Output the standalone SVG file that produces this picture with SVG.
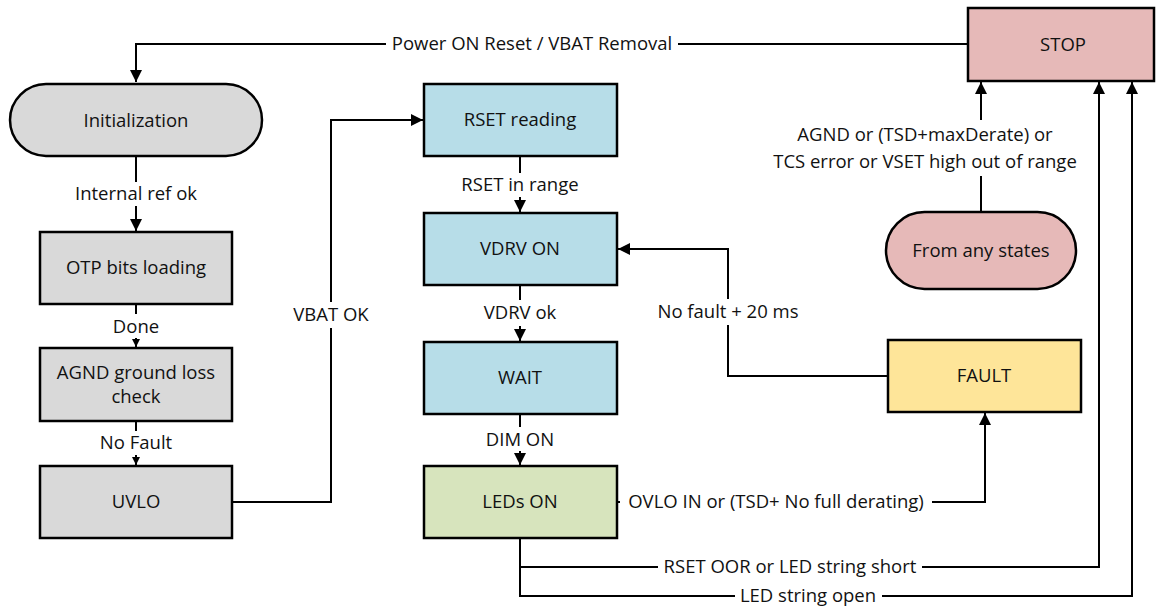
<svg xmlns="http://www.w3.org/2000/svg" width="1156" height="607" viewBox="0 0 1156 607">
<style>
.n{stroke:#000;stroke-width:2.5}
.g{fill:#d9d9d9}.b{fill:#b7dde8}.p{fill:#e6b9b8}.y{fill:#fee599}.gr{fill:#d7e4bd}
text{font-family:"Open Sans","Liberation Sans",sans-serif;font-size:18.5px;fill:#111;text-anchor:middle}
.c{fill:none;stroke:#000;stroke-width:2}
.bg{fill:#fff}
</style>
<defs>
<marker id="a" markerUnits="userSpaceOnUse" markerWidth="14" markerHeight="14" refX="12" refY="7" orient="auto"><path d="M0,1 L12,7 L0,13 Z" fill="#000"/></marker>
<marker id="s" markerUnits="userSpaceOnUse" markerWidth="10" markerHeight="10" refX="8" refY="5" orient="auto"><path d="M0,1 L8,5 L0,9 Z" fill="#000"/></marker>
</defs>
<g id="connectors">
<path class="c" d="M968,44 H136 V82" marker-end="url(#a)"/>
<rect class="bg" x="386" y="33" width="292" height="22"/>
<text x="532" y="50">Power ON Reset / VBAT Removal</text>
<path class="c" d="M136,157 V231" marker-end="url(#a)"/>
<rect class="bg" x="70" y="182" width="132" height="24"/>
<text x="136" y="200">Internal ref ok</text>
<path class="c" d="M136,304 V347" marker-end="url(#s)"/>
<rect class="bg" x="110" y="314" width="52" height="24"/>
<text x="136" y="333">Done</text>
<path class="c" d="M136,421 V465" marker-end="url(#s)"/>
<rect class="bg" x="98" y="431" width="76" height="24"/>
<text x="136" y="449">No Fault</text>
<path class="c" d="M232,502 H331 V120 H423" marker-end="url(#a)"/>
<rect class="bg" x="294" y="302" width="74" height="26"/>
<text x="331" y="321">VBAT OK</text>
<path class="c" d="M520,156 V212" marker-end="url(#a)"/>
<rect class="bg" x="456" y="173" width="128" height="24"/>
<text x="520" y="191">RSET in range</text>
<path class="c" d="M520,285 V341" marker-end="url(#a)"/>
<rect class="bg" x="474" y="300" width="92" height="26"/>
<text x="520" y="319">VDRV ok</text>
<path class="c" d="M520,414 V465" marker-end="url(#a)"/>
<rect class="bg" x="480" y="427" width="80" height="24"/>
<text x="520" y="446">DIM ON</text>
<path class="c" d="M888,376 H728 V249 H618" marker-end="url(#a)"/>
<rect class="bg" x="655" y="299" width="146" height="26"/>
<text x="728" y="318">No fault + 20 ms</text>
<path class="c" d="M617,502 H985 V413" marker-end="url(#a)"/>
<rect class="bg" x="620" y="490" width="312" height="24"/>
<text x="776" y="508">OVLO IN or (TSD+ No full derating)</text>
<path class="c" d="M520,538 V596 H1132 V82" marker-end="url(#a)"/>
<path class="c" d="M520,567 H1099 V82" marker-end="url(#a)"/>
<rect class="bg" x="658" y="555" width="264" height="24"/>
<text x="790" y="573">RSET OOR or LED string short</text>
<rect class="bg" x="735" y="585" width="147" height="22"/>
<text x="808" y="602">LED string open</text>
<path class="c" d="M981,212 V82" marker-end="url(#a)"/>
<rect class="bg" x="970" y="120" width="22" height="56"/>
<text x="925" y="141">AGND or (TSD+maxDerate) or</text>
<text x="925" y="168">TCS error or VSET high out of range</text>
</g>
<g id="initialization"><rect class="n g" x="10" y="84" width="252" height="72" rx="36"/><text x="136" y="127">Initialization</text></g>
<g id="otp"><rect class="n g" x="40" y="232" width="192" height="72"/><text x="136" y="274">OTP bits loading</text></g>
<g id="agnd"><rect class="n g" x="40" y="348" width="192" height="73"/><text x="136" y="379">AGND ground loss</text><text x="136" y="403">check</text></g>
<g id="uvlo"><rect class="n g" x="40" y="466" width="192" height="72"/><text x="136" y="508">UVLO</text></g>
<g id="rset"><rect class="n b" x="424" y="84" width="193" height="72"/><text x="520" y="126">RSET reading</text></g>
<g id="vdrv"><rect class="n b" x="424" y="213" width="193" height="72"/><text x="520" y="255">VDRV ON</text></g>
<g id="wait"><rect class="n b" x="424" y="342" width="193" height="72"/><text x="520" y="384">WAIT</text></g>
<g id="leds"><rect class="n gr" x="424" y="466" width="193" height="72"/><text x="520" y="508">LEDs ON</text></g>
<g id="fault"><rect class="n y" x="888" y="340" width="193" height="72"/><text x="984" y="382">FAULT</text></g>
<g id="stop"><rect class="n p" x="968" y="8" width="186" height="73"/><text x="1063" y="51">STOP</text></g>
<g id="anystate"><rect class="n p" x="886" y="212" width="190" height="77" rx="38.5"/><text x="981" y="257">From any states</text></g>
</svg>
